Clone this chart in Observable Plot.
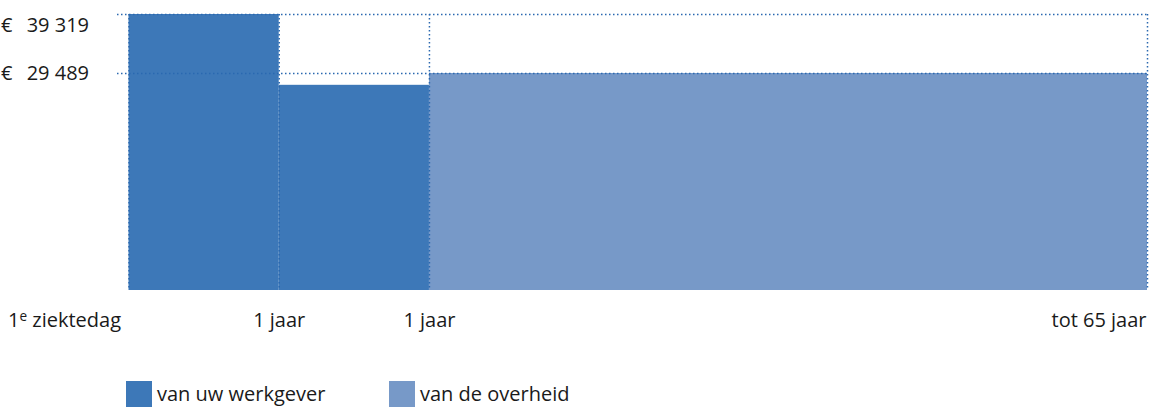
<!DOCTYPE html>
<html>
<head>
<meta charset="utf-8">
<script src="https://cdn.jsdelivr.net/npm/d3@7"></script>
<script src="https://cdn.jsdelivr.net/npm/@observablehq/plot@0.6"></script>
<style>
  html, body { margin: 0; padding: 0; background: #fff; }
  body { width: 1160px; height: 408px; overflow: hidden; font-family: "Open Sans", sans-serif; }
  #chart svg { display: block; }
  #legend { margin-left: 126px; margin-top: 32px; }
</style>
</head>
<body>
<div id="chart"></div>
<div id="legend"></div>
<script>
// Period boundaries (schematic units) and labels
const periodStart = [0, 1, 2];
const periodEnd   = [1, 2, 6.78];
const periodValue = [39319, 27523, 29489];
const periodPayer = ["van uw werkgever", "van uw werkgever", "van de overheid"];

const xTickValues = [0, 1, 2, 6.78];
const xTickLabels = ["1e ziektedag", "1 jaar", "1 jaar", "tot 65 jaar"];

const yTickValues = [39319, 29489];
const yTickLabels = ["39 319", "29 489"];

const payers = ["van uw werkgever", "van de overheid"];
const payerColors = ["#3d78b8", "#7799c8"];

const yBase = -6660;

const bars = periodStart.map((s, i) => ({x1: s, x2: periodEnd[i], y: periodValue[i], payer: periodPayer[i]}));
const xTicks = xTickValues.map((v, i) => ({x: v, label: xTickLabels[i], i}));
const yTicks = yTickValues.map((v, i) => ({y: v, label: yTickLabels[i], i}));

const dotted = {stroke: "#2a68b0", strokeWidth: 1.5, strokeDasharray: "1.5,2.5"};

const plot = Plot.plot({
  width: 1160,
  height: 345,
  marginLeft: 117,
  marginRight: 13,
  marginTop: 14,
  marginBottom: 55,
  style: {fontFamily: "Open Sans, sans-serif", fontSize: "20px", color: "#1a1a1a", background: "#fff"},
  x: {domain: [0, 6.78], range: [128.5, 1147], axis: null},
  y: {domain: [yBase, 39319], range: [290, 14], axis: null},
  color: {domain: payers, range: payerColors},
  marks: [
    Plot.rect(bars, {x1: "x1", x2: "x2", y1: yBase, y2: "y", fill: "payer"}),
    Plot.ruleY(yTickValues, {...dotted}),
    Plot.ruleX(xTickValues, {...dotted}),
    // y labels
    Plot.text(yTicks.filter(d => d.i === 0), {x: () => 0, y: "y", text: "label", textAnchor: "end", dx: -40, dy: 11.5, fill: "#1a1a1a"}),
    Plot.text(yTicks.filter(d => d.i === 1), {x: () => 0, y: "y", text: "label", textAnchor: "end", dx: -40, dy: 0, fill: "#1a1a1a"}),
    Plot.text(yTicks.filter(d => d.i === 0), {x: () => 0, y: "y", text: () => "€", textAnchor: "start", dx: -128, dy: 11.5, fill: "#1a1a1a"}),
    Plot.text(yTicks.filter(d => d.i === 1), {x: () => 0, y: "y", text: () => "€", textAnchor: "start", dx: -128, dy: 0, fill: "#1a1a1a"}),
    // x labels
    Plot.text(xTicks.filter(d => d.i === 0), {x: "x", y: () => yBase, text: "label", textAnchor: "end", dx: -8, dy: 30, fill: "#1a1a1a", className: "first-tick"}),
    Plot.text(xTicks.filter(d => d.i === 1 || d.i === 2), {x: "x", y: () => yBase, text: "label", textAnchor: "middle", dy: 30, fill: "#1a1a1a"}),
    Plot.text(xTicks.filter(d => d.i === 3), {x: "x", y: () => yBase, text: "label", textAnchor: "end", dx: -1, dy: 30, fill: "#1a1a1a"})
  ]
});
document.getElementById("chart").append(plot);

// superscript "e" in "1e ziektedag"
d3.select(plot).selectAll(".first-tick text").each(function() {
  const t = d3.select(this);
  const s = t.text();
  if (s.startsWith("1e")) {
    t.text(null);
    t.append("tspan").text("1");
    t.append("tspan").attr("dy", "-0.45em").attr("font-size", "0.68em").text("e");
    t.append("tspan").attr("dy", "0.3em").text(s.slice(2));
  }
});

const legend = Plot.legend({
  color: {type: "ordinal", domain: payers, range: payerColors},
  legend: "swatches",
  swatchSize: 26,
  className: "lg",
  style: {fontFamily: "Open Sans, sans-serif", fontSize: "20px", color: "#1a1a1a"}
});
document.getElementById("legend").append(legend);
// item spacing: second swatch starts 263px after first
const items = Array.from(legend.children).filter(el => el.tagName.toLowerCase() !== "style");
items.forEach((el, i) => {
  el.style.marginRight = "0";
  el.style.display = "inline-flex";
  el.style.alignItems = "center";
  if (i === 0) el.style.width = "263px";
  const sw = el.querySelector("svg");
  if (sw) sw.style.marginRight = "5px";
});
</script>
</body>
</html>
